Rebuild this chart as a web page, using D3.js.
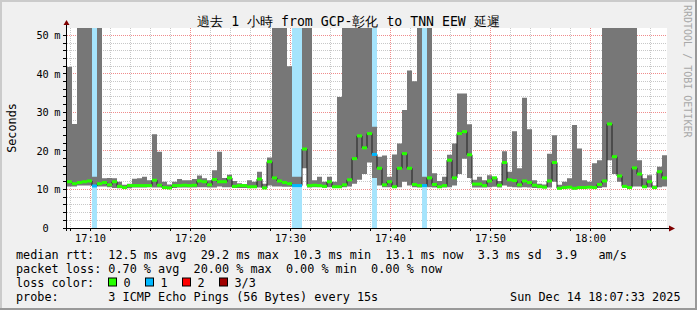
<!DOCTYPE html>
<html>
<head>
<meta charset="utf-8">
<script src="https://cdn.jsdelivr.net/npm/d3@7"></script>
<style>
  body { margin: 0; background: #f0f0f0; }
  text { font-family: "DejaVu Sans Mono", monospace; white-space: pre; }
</style>
</head>
<body>
<div id="chart"></div>
<script>
// 30 s samples, 17:07:39 -> 18:07:39 (values in ms)
var maxRtt = [41.8,27.0,52,52,52,13.3,52,12.9,13.0,12.9,12.0,11.2,11.5,12.8,12.9,13.3,12.4,24.3,19.8,12.0,
              11.3,12.0,12.7,12.4,12.4,12.7,13.6,12.9,12.4,15.0,19.8,13.0,13.8,12.2,11.6,11.4,12.4,12.0,14.6,11.5,
              18.3,52,52,52,42,13.3,13.3,52,52,12.4,13.3,12.0,13.3,12.0,34.0,52,52,52,52,52,
              52,26.3,18.5,18.8,13.3,19.1,21.9,30.6,40.9,38.1,52,13.3,52,14.2,12.2,13.3,19.0,21.9,34.9,34.9,
              26.9,12.5,13.3,12.4,13.7,13.3,12.2,19.9,14.6,25.1,15.5,33.8,25.6,12.4,11.5,11.3,19.3,24.1,11.2,12.0,
              12.9,26.7,20.6,12.4,12.0,16.8,17.6,52,52,52,52,52,52,52,17.6,12.9,13.7,11.0,15.9,18.9];
var medRtt = [12.0,11.5,11.8,12.0,12.2,10.9,11.5,11.8,11.2,12.0,10.8,10.5,11.0,11.0,11.0,11.0,11.0,12.4,11.1,10.5,
              10.4,11.0,11.0,11.1,11.0,11.1,12.2,12.0,11.2,12.6,12.0,12.0,13.0,10.8,11.0,11.0,10.7,10.7,12.7,10.4,
              17.2,13.0,12.2,11.8,11.5,11.0,11.0,20.5,11.0,11.1,11.0,10.8,12.0,10.7,10.7,11.2,12.5,18.0,23.9,20.8,
              24.5,19.1,15.5,11.2,12.0,10.7,15.5,19.3,15.5,11.3,11.0,11.0,13.0,11.3,10.7,11.0,17.6,13.0,24.5,25.0,
              19.0,11.4,11.4,11.0,12.2,13.0,11.1,17.0,12.5,12.3,11.2,12.2,11.8,11.1,10.8,10.6,12.2,17.0,10.3,10.5,
              10.6,10.3,10.5,10.5,10.6,10.5,11.3,12.2,27.0,18.5,13.5,10.8,10.5,15.6,14.0,10.7,12.0,10.5,14.6,13.0];
var minRtt = [10.8,10.8,11.0,11.0,11.0,10.8,10.8,10.8,10.6,10.4,10.3,10.3,10.3,10.5,10.5,10.5,10.6,10.5,10.5,10.3,
              10.3,10.4,10.5,10.5,10.5,10.5,10.6,10.6,10.5,10.5,10.8,10.6,10.6,10.4,10.4,10.4,10.4,10.4,10.5,10.3,
              11.0,10.8,10.8,10.7,10.7,10.8,10.8,15.5,10.5,10.6,10.6,10.5,10.6,10.5,10.5,10.6,10.8,11.5,12.5,14.0,
              17.0,13.0,11.0,10.6,10.6,10.5,10.6,12.0,11.0,10.6,10.5,10.7,10.6,10.5,10.4,10.5,10.6,11.0,14.0,18.0,
              13.0,10.5,10.5,10.5,10.6,10.7,10.5,11.0,10.7,10.6,10.5,10.6,10.5,10.4,10.3,10.3,10.5,12.0,10.2,10.2,
              10.3,10.2,10.3,10.3,10.3,10.3,10.4,10.6,17.6,14.0,12.0,10.5,10.4,10.8,10.8,10.4,10.5,10.3,10.6,10.8];
var lossCnt = [0,0,0,0,0,1,0,0,0,0,0,0,0,0,0,0,0,0,0,0,
               0,0,0,0,0,0,0,0,0,0,0,0,0,0,0,0,0,0,0,0,
               0,0,0,0,0,1,1,0,0,0,0,0,0,0,0,0,0,0,0,0,
               0,1,0,0,0,0,0,0,0,0,0,1,0,0,0,0,0,0,0,0,
               0,0,0,0,0,0,0,0,0,0,0,0,0,0,0,0,0,0,0,0,
               0,0,0,0,0,0,0,0,0,0,0,0,0,0,0,0,0,0,0,0];

var yTicks = [0, 10, 20, 30, 40, 50];
var lossLabels = ["0", "1", "2", "3/3"];
var lossColors = ["#26ff00", "#00b8ff", "#ff0000", "#a00000"];
var lossBg = ["none", "#a6e4fc", "#ffb0b0", "#d8a0a0"];
var titleText = "過去 1 小時 from GCP-彰化 to TNN EEW 延遲";
var legendLines = [
  "median rtt:  12.5 ms avg  29.2 ms max  10.3 ms min  13.1 ms now  3.3 ms sd  3.9   am/s",
  "packet loss: 0.70 % avg  20.00 % max  0.00 % min  0.00 % now",
  "loss color:",
  "probe:       3 ICMP Echo Pings (56 Bytes) every 15s"
];
var stampText = "Sun Dec 14 18:07:33 2025";

var W = 697, H = 310;
var plot = {left: 67, right: 667, top: 28, bottom: 228};
var t0 = new Date(2025, 11, 14, 17, 7, 39);
var t1 = new Date(t0.getTime() + 3600 * 1000);
var step = 30 * 1000;

var data = maxRtt.map(function(d, i) {
  return {t: new Date(t0.getTime() + i * step), max: d, med: medRtt[i], min: minRtt[i], loss: lossCnt[i]};
});
var last = data[data.length - 1];
var dataEnd = data.concat([{t: t1, max: last.max, med: last.med, min: last.min, loss: last.loss}]);

var svg = d3.select("#chart").append("svg")
  .attr("width", W)
  .attr("height", H);

// background and shading
svg.append("rect").attr("width", W).attr("height", H).attr("fill", "#f0f0f0");
svg.append("rect").attr("width", W).attr("height", 2).attr("fill", "#cbcbcb");
svg.append("rect").attr("width", 2).attr("height", H).attr("fill", "#cbcbcb");
svg.append("rect").attr("y", H - 2).attr("width", W).attr("height", 2).attr("fill", "#999999");
svg.append("rect").attr("x", W - 2).attr("width", 2).attr("height", H).attr("fill", "#999999");

var x = d3.scaleTime().domain([t0, t1]).range([plot.left, plot.right]);
var y = d3.scaleLinear().domain([0, 51.9]).range([plot.bottom, plot.top]);

svg.append("defs").append("clipPath").attr("id", "clip")
  .append("rect")
  .attr("x", plot.left).attr("y", plot.top)
  .attr("width", plot.right - plot.left).attr("height", plot.bottom - plot.top);

// canvas
svg.append("rect")
  .attr("x", plot.left).attr("y", plot.top)
  .attr("width", plot.right - plot.left).attr("height", plot.bottom - plot.top)
  .attr("fill", "#ffffff");

// grid
var grid = svg.append("g");
var minorX = x.ticks(d3.timeMinute.every(2)).filter(function(d) { return d.getMinutes() % 10 != 0; });
var majorX = x.ticks(d3.timeMinute.every(10));
var minorY = d3.range(2, 52, 2).filter(function(d) { return d % 10 != 0; });
var majorY = yTicks.filter(function(d) { return d > 0; });

function px(v) { return Math.floor(v) + 0.5; }

grid.selectAll(".gx").data(minorX).enter().append("line")
  .attr("x1", function(d) { return px(x(d)); }).attr("x2", function(d) { return px(x(d)); })
  .attr("y1", plot.top).attr("y2", plot.bottom)
  .attr("stroke", "#c8c8c8").attr("stroke-dasharray", "1,1");
grid.selectAll(".gy").data(minorY).enter().append("line")
  .attr("y1", function(d) { return px(y(d)); }).attr("y2", function(d) { return px(y(d)); })
  .attr("x1", plot.left).attr("x2", plot.right)
  .attr("stroke", "#c8c8c8").attr("stroke-dasharray", "1,1");
grid.selectAll(".mx").data(majorX).enter().append("line")
  .attr("x1", function(d) { return px(x(d)); }).attr("x2", function(d) { return px(x(d)); })
  .attr("y1", plot.top).attr("y2", plot.bottom)
  .attr("stroke", "#f08c8c").attr("stroke-dasharray", "1,1");
grid.selectAll(".my").data(majorY).enter().append("line")
  .attr("y1", function(d) { return px(y(d)); }).attr("y2", function(d) { return px(y(d)); })
  .attr("x1", plot.left).attr("x2", plot.right)
  .attr("stroke", "#f08c8c").attr("stroke-dasharray", "1,1");

var g = svg.append("g").attr("clip-path", "url(#clip)");

// loss background bands
g.selectAll(".lossbg").data(data.filter(function(d) { return d.loss > 0; })).enter().append("rect")
  .attr("x", function(d) { return x(d.t); })
  .attr("width", function(d) { return x(new Date(d.t.getTime() + step)) - x(d.t); })
  .attr("y", plot.top).attr("height", plot.bottom - plot.top)
  .attr("fill", function(d) { return lossBg[d.loss]; });

// smoke
var smoke = d3.area()
  .x(function(d) { return x(d.t); })
  .y0(function(d) { return y(d.min); })
  .y1(function(d) { return y(d.max); })
  .curve(d3.curveStepAfter);
g.append("path").datum(dataEnd).attr("d", smoke).attr("fill", "#777777");

// median line
var medLine = d3.line()
  .x(function(d) { return x(d.t); })
  .y(function(d) { return y(d.med); })
  .curve(d3.curveStepAfter);
g.append("path").datum(dataEnd).attr("d", medLine)
  .attr("fill", "none").attr("stroke", "#202020").attr("stroke-width", 1);

// median colored by loss
g.selectAll(".med").data(data).enter().append("rect")
  .attr("x", function(d) { return x(d.t); })
  .attr("width", function(d) { return x(new Date(d.t.getTime() + step)) - x(d.t); })
  .attr("y", function(d) { return y(d.med) - 1.5; })
  .attr("height", 3)
  .attr("fill", function(d) { return lossColors[d.loss]; });

// ticks
var ticks = svg.append("g").attr("stroke", "#000");
ticks.selectAll(".ty").data(minorY.concat(yTicks)).enter().append("line")
  .attr("x1", plot.left - 4).attr("x2", plot.left - 1)
  .attr("y1", function(d) { return px(y(d)); }).attr("y2", function(d) { return px(y(d)); });
ticks.selectAll(".tx").data(minorX.concat(majorX)).enter().append("line")
  .attr("y1", plot.bottom).attr("y2", plot.bottom + 3)
  .attr("x1", function(d) { return px(x(d)); }).attr("x2", function(d) { return px(x(d)); });

// axes
svg.append("line").attr("x1", plot.left - 0.5).attr("x2", plot.left - 0.5)
  .attr("y1", plot.bottom + 3).attr("y2", plot.top - 6).attr("stroke", "#000");
svg.append("line").attr("x1", plot.left - 4).attr("x2", plot.right + 4)
  .attr("y1", plot.bottom + 0.5).attr("y2", plot.bottom + 0.5).attr("stroke", "#000");
svg.append("path")
  .attr("d", "M" + (plot.left - 3.5) + "," + (plot.top - 3) + "L" + (plot.left + 2.5) + "," + (plot.top - 3) + "L" + (plot.left - 0.5) + "," + (plot.top - 8) + "Z")
  .attr("fill", "#7f0000");
svg.append("path")
  .attr("d", "M" + (plot.right + 2) + "," + (plot.bottom - 2.5) + "L" + (plot.right + 2) + "," + (plot.bottom + 3.5) + "L" + (plot.right + 8) + "," + (plot.bottom + 0.5) + "Z")
  .attr("fill", "#7f0000");

// y labels
var yl = svg.append("g").attr("font-size", "10.3px").attr("fill", "#000");
yl.selectAll(".yn").data(yTicks).enter().append("text")
  .attr("x", 48.8).attr("y", function(d) { return y(d) + 3.7; })
  .attr("text-anchor", "end")
  .text(function(d) { return d; });
yl.selectAll(".yu").data(majorY).enter().append("text")
  .attr("x", 54.2).attr("y", function(d) { return y(d) + 3.7; })
  .text("m");

// x labels
svg.append("g").attr("font-size", "10.3px")
  .selectAll(".xl").data(majorX).enter().append("text")
  .attr("x", function(d) { return px(x(d)); }).attr("y", 241.5)
  .attr("text-anchor", "middle")
  .text(d3.timeFormat("%H:%M"));

// title
svg.append("text").attr("x", 348.5).attr("y", 25.5)
  .attr("text-anchor", "middle").attr("font-size", "13.2px")
  .text(titleText);

// unit label
svg.append("text").attr("transform", "translate(15.5," + ((plot.top + plot.bottom) / 2) + ") rotate(-90)")
  .attr("text-anchor", "middle").attr("font-size", "11.8px")
  .text("Seconds");

// watermark
svg.append("text").attr("transform", "translate(683.5,5) rotate(90)")
  .attr("font-size", "10px").attr("fill", "#a8a8a8")
  .text("RRDTOOL / TOBI OETIKER");

// legend
var leg = svg.append("g").attr("font-size", "11.8px");
leg.selectAll(".ll").data(legendLines).enter().append("text")
  .attr("x", 16).attr("y", function(d, i) { return 258.5 + i * 14; })
  .text(function(d) { return d; });
leg.append("text").attr("x", 680.5).attr("y", 258.5 + 3 * 14)
  .attr("text-anchor", "end").text(stampText);

var items = leg.selectAll(".li").data(lossLabels).enter().append("g")
  .attr("transform", function(d, i) { return "translate(" + (108 + i * 37) + "," + (258.5 + 2 * 14) + ")"; });
items.append("rect")
  .attr("x", 0.5).attr("y", -8.5).attr("width", 8).attr("height", 8)
  .attr("fill", function(d, i) { return lossColors[i]; })
  .attr("stroke", "#000");
items.append("text").attr("x", 15.5).attr("y", 0).text(function(d) { return d; });
</script>
</body>
</html>
